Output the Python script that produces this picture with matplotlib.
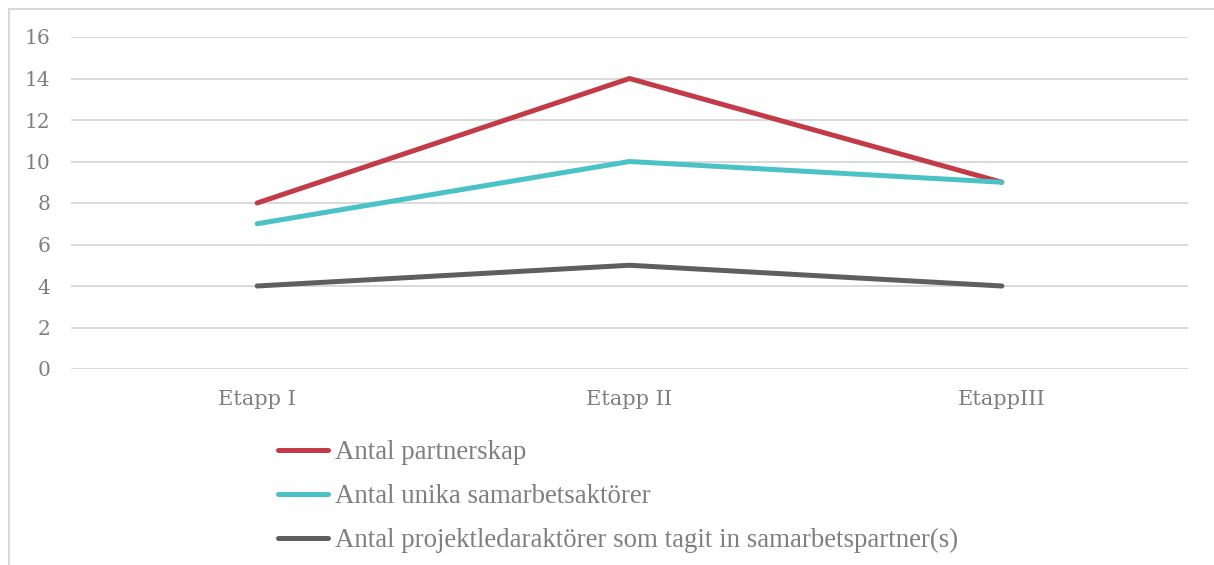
import matplotlib.pyplot as plt
from matplotlib.lines import Line2D

categories = ["Etapp I", "Etapp II", "EtappIII"]
partnerskap = [8, 14, 9]
unika_aktorer = [7, 10, 9]
projektledare = [4, 5, 4]

series_labels = [
    "Antal partnerskap",
    "Antal unika samarbetsaktörer",
    "Antal projektledaraktörer som tagit in samarbetspartner(s)",
]
series_colors = ["#C43B48", "#4BC2C5", "#5F5F5F"]
y_ticks = [0, 2, 4, 6, 8, 10, 12, 14, 16]

W, H = 1214, 565
fig = plt.figure(figsize=(W / 100, H / 100), dpi=100)
ax = fig.add_axes([71 / W, 1 - 369 / H, (1188 - 71) / W, (369 - 37) / H])

x = range(len(categories))
for vals, col in zip([partnerskap, unika_aktorer, projektledare], series_colors):
    ax.plot(x, vals, color=col, lw=3.6, solid_capstyle="round", solid_joinstyle="round", zorder=3)

ax.set_xlim(-0.5, 2.5)
ax.set_ylim(0, 16)
ax.set_yticks(y_ticks)
ax.set_xticks(list(x))
ax.set_xticklabels(categories, family="DejaVu Serif", fontsize=15, color="#7F7F7F")
ax.set_yticklabels([str(v) for v in y_ticks], family="DejaVu Serif", fontsize=14.5, color="#7F7F7F")
ax.grid(axis="y", color="#D9D9D9", lw=1.4)
ax.set_axisbelow(True)
for s in ax.spines.values():
    s.set_visible(False)
ax.tick_params(length=0, axis="y", pad=15)
ax.tick_params(length=0, axis="x", pad=15)

# outer chart border (only left and top visible in the crop)
fig.add_artist(Line2D([9 / W, 9 / W], [0, 1 - 9 / H], color="#D9D9D9", lw=1.5))
fig.add_artist(Line2D([9 / W, 1], [1 - 9 / H, 1 - 9 / H], color="#D9D9D9", lw=1.5))

handles = [Line2D([], [], color=c, lw=3.6, solid_capstyle="round") for c in series_colors]
fig.legend(handles, series_labels, loc="upper left", bbox_to_anchor=(254 / W, 1 - 416 / H),
           frameon=False, handlelength=1.86, handletextpad=0.26, labelspacing=0.7,
           prop={"family": "Liberation Serif", "size": 19.4}, labelcolor="#7F7F7F")

fig.savefig("out.png", dpi=100, facecolor="white")
